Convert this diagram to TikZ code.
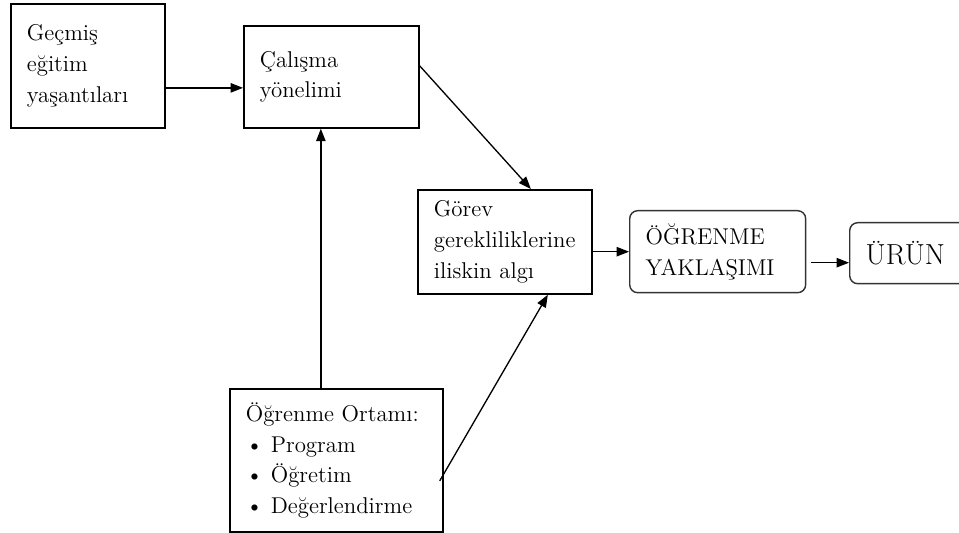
\documentclass[tikz,border=0pt]{standalone}
\usepackage{fontspec}
\usetikzlibrary{arrows.meta}

\tikzset{
  kutu/.style={draw, line width=1pt, anchor=north west, align=left, inner xsep=0.32cm, inner ysep=0pt, font=\fontsize{13}{17.5}\selectfont},
  yuvarlak/.style={kutu, rounded corners=0.16cm, draw=black!80, line width=0.8pt},
  ok/.style={-{Triangle[length=0.25cm,width=0.19cm]}, line width=0.75pt}
}

\begin{document}
\begin{tikzpicture}[x=0.02cm,y=-0.02cm]

\useasboundingbox (0,0) rectangle (959,533);

\node[kutu, minimum width=3.08cm, minimum height=2.48cm, text width=2.44cm] (gecmis) at (10,3) {Geçmiş\\eğitim\\yaşantıları};
\node[kutu, minimum width=3.5cm, minimum height=2.04cm, text width=2.86cm] (calisma) at (243,25) {Çalışma\\yönelimi};
\node[kutu, minimum width=3.48cm, minimum height=2.08cm, text width=2.84cm] (gorev) at (417,189) {Görev\\gerekliliklerine\\iliskin algı};
\node[yuvarlak, minimum width=3.52cm, minimum height=1.64cm, text width=2.88cm] (yaklasim) at (629,210) {ÖĞRENME\\YAKLAŞIMI};
\node[yuvarlak, minimum width=2.4cm, minimum height=1.22cm, text width=1.76cm, font=\fontsize{16.5}{19}\selectfont] (urun) at (849,222) {ÜRÜN};
\node[kutu, minimum width=4.26cm, minimum height=2.86cm, text width=3.62cm] (ortam) at (229,388) {Öğrenme Ortamı:\\\textbullet~Program\\\textbullet~Öğretim\\\textbullet~Değerlendirme};

\draw[ok] ([yshift=-0.44cm]gecmis.east) -- ([yshift=-0.44cm]gecmis.east -| calisma.west);
\draw[ok] ([xshift=-0.31cm]ortam.north) -- ([xshift=-0.31cm]ortam.north |- calisma.south);
\draw[ok] ([yshift=0.22cm]calisma.east) -- ([xshift=0.52cm]gorev.north);
\draw[ok] ([yshift=-0.41cm,xshift=-0.08cm]ortam.east) -- ([xshift=0.86cm]gorev.south);
\draw[ok] (gorev.east |- yaklasim.west) -- (yaklasim.west);
\draw[ok] ([xshift=0.1cm,yshift=-0.22cm]yaklasim.east) -- ([yshift=-0.22cm]yaklasim.east -| urun.west);

\end{tikzpicture}
\end{document}
